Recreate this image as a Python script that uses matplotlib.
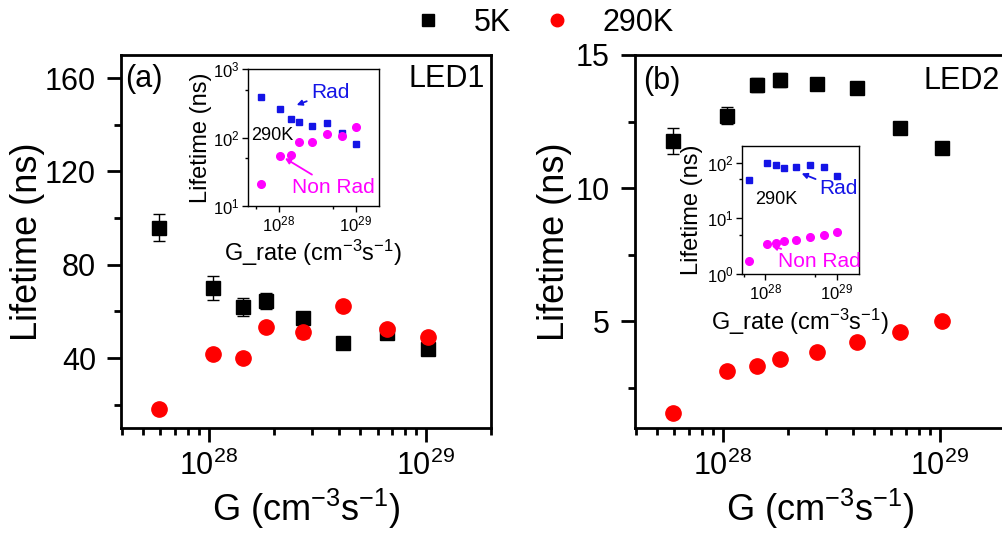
import matplotlib
matplotlib.use("Agg")
import matplotlib.pyplot as plt
from matplotlib.lines import Line2D
from matplotlib.ticker import LogLocator, MultipleLocator, NullFormatter

plt.rcParams["font.family"] = ["Liberation Sans", "DejaVu Sans"]
plt.rcParams["mathtext.fontset"] = "custom"
plt.rcParams["mathtext.rm"] = "Liberation Sans"
plt.rcParams["mathtext.it"] = "Liberation Sans:italic"
plt.rcParams["mathtext.bf"] = "Liberation Sans:bold"

# generation rate (cm^-3 s^-1)
g_rate = [5.9e27, 1.05e28, 1.44e28, 1.83e28, 2.72e28, 4.17e28, 6.6e28, 1.02e29]

# LED1 lifetimes (ns)
led1_5k = [95.8, 70.0, 61.8, 64.5, 57.1, 46.6, 50.6, 43.7]
led1_5k_err = [5.8, 5.0, 3.9, 3.4, 1.5, 1.0, 1.5, 1.0]
led1_290k = [18.0, 41.7, 40.1, 53.2, 51.0, 62.4, 52.4, 49.2]
led1_290k_err = [0.5, 0.5, 2.0, 0.5, 2.5, 0.5, 0.5, 0.5]
led1_rad = [388, 259, 189, 169, 147, 163, 116, 81]
led1_nonrad = [21, 53, 55, 86, 86, 111, 106, 144]

# LED2 lifetimes (ns)
led2_5k = [11.77, 12.72, 13.88, 14.07, 13.9, 13.76, 12.24, 11.49]
led2_5k_err = [0.47, 0.33, 0.26, 0.26, 0.2, 0.1, 0.1, 0.1]
led2_290k = [1.57, 3.15, 3.33, 3.59, 3.87, 4.24, 4.62, 5.0]
led2_rad = [49, 96, 91, 81, 82, 91, 84, 58]
led2_nonrad = [1.72, 3.39, 3.62, 3.88, 4.15, 4.62, 5.08, 5.58]

xlabel = "G (cm$^{-3}$s$^{-1}$)"
inset_xlabel = "G_rate (cm$^{-3}$s$^{-1}$)"

fig = plt.figure(figsize=(10.02, 5.33), dpi=100)


def style_main(ax, ylim, major, minor):
    ax.set_xscale("log")
    ax.set_xlim(3.95e27, 2.0e29)
    ax.set_ylim(*ylim)
    ax.yaxis.set_major_locator(MultipleLocator(major))
    ax.yaxis.set_minor_locator(MultipleLocator(minor))
    ax.xaxis.set_major_locator(LogLocator(base=10, numticks=10))
    ax.xaxis.set_minor_locator(LogLocator(base=10, subs=range(2, 10), numticks=20))
    ax.xaxis.set_minor_formatter(NullFormatter())
    ax.tick_params(which="both", direction="out", top=False, right=False,
                   width=2, labelsize=22)
    ax.tick_params(axis="y", which="major", length=10, pad=8)
    ax.tick_params(axis="x", which="major", length=10, pad=6)
    ax.tick_params(which="minor", length=5)
    for s in ax.spines.values():
        s.set_linewidth(2)
    ax.set_xlabel(xlabel, fontsize=26, labelpad=4)
    ax.set_ylabel("Lifetime (ns)", fontsize=26)


def style_inset(ax, xlim, ylim):
    ax.set_xscale("log")
    ax.set_yscale("log")
    ax.set_xlim(*xlim)
    ax.set_ylim(*ylim)
    ax.xaxis.set_major_locator(LogLocator(base=10, numticks=10))
    ax.xaxis.set_minor_locator(LogLocator(base=10, subs=[5], numticks=10))
    ax.yaxis.set_major_locator(LogLocator(base=10, numticks=10))
    ax.yaxis.set_minor_locator(LogLocator(base=10, subs=[5], numticks=10))
    ax.xaxis.set_minor_formatter(NullFormatter())
    ax.yaxis.set_minor_formatter(NullFormatter())
    ax.tick_params(which="both", direction="out", top=False, right=False,
                   width=1, labelsize=12, pad=2)
    ax.tick_params(which="major", length=4)
    ax.tick_params(which="minor", length=2.5)
    for s in ax.spines.values():
        s.set_linewidth(1)
    ax.set_xlabel(inset_xlabel, fontsize=17, labelpad=3)
    ax.set_ylabel("Lifetime (ns)", fontsize=17)


# ---- panel (a) ----
ax1 = fig.add_axes([0.1208, 0.197, 0.3693, 0.700])
ax1.errorbar(g_rate, led1_5k, yerr=led1_5k_err, fmt="s", color="black",
             ms=10, capsize=4, elinewidth=1, capthick=1)
ax1.errorbar(g_rate, led1_290k, yerr=led1_290k_err, fmt="o", color="red",
             ms=11, capsize=4, elinewidth=1, capthick=1)
style_main(ax1, (10, 170), 40, 20)
ax1.yaxis.set_label_coords(-0.205, 0.5)
ax1.text(0.01, 0.935, "(a)", transform=ax1.transAxes, fontsize=22,
         ha="left", va="center")
ax1.text(0.984, 0.935, "LED1", transform=ax1.transAxes, fontsize=22,
         ha="right", va="center")

ins1 = fig.add_axes([0.2472, 0.614, 0.131, 0.256])
ins1.plot(g_rate, led1_rad, "s", color="#1414e6", ms=5)
ins1.plot(g_rate, led1_nonrad, "o", color="#ff00ff", ms=5.5)
style_inset(ins1, (3.95e27, 2.0e29), (10, 1000))
ins1.yaxis.set_label_coords(-0.275, 0.5)
ins1.text(0.025, 0.518, "290K", transform=ins1.transAxes, fontsize=13,
          ha="left", va="center")
ins1.annotate("Rad", xy=(0.373, 0.738), xycoords="axes fraction",
              xytext=(0.627, 0.83), textcoords="axes fraction",
              fontsize=15, color="#1414e6", ha="center", va="center",
              arrowprops=dict(arrowstyle="-|>", color="#1414e6", lw=1.3,
                              mutation_scale=8, shrinkA=1, shrinkB=0))
ins1.annotate("Non Rad", xy=(0.284, 0.348), xycoords="axes fraction",
              xytext=(0.653, 0.133), textcoords="axes fraction",
              fontsize=15, color="#ff00ff", ha="center", va="center",
              arrowprops=dict(arrowstyle="-|>", color="#ff00ff", lw=1.3,
                              mutation_scale=8, shrinkA=1, shrinkB=0))

# ---- panel (b) ----
ax2 = fig.add_axes([0.6337, 0.197, 0.3693, 0.700])
ax2.errorbar(g_rate, led2_5k, yerr=led2_5k_err, fmt="s", color="black",
             ms=10, capsize=4, elinewidth=1, capthick=1)
ax2.plot(g_rate, led2_290k, "o", color="red", ms=11)
style_main(ax2, (1, 15), 5, 2.5)
ax2.yaxis.set_label_coords(-0.17, 0.5)
ax2.text(0.022, 0.93, "(b)", transform=ax2.transAxes, fontsize=22,
         ha="left", va="center")
ax2.text(0.986, 0.93, "LED2", transform=ax2.transAxes, fontsize=22,
         ha="right", va="center")

ins2 = fig.add_axes([0.7402, 0.4859, 0.1171, 0.2407])
ins2.plot(g_rate, led2_rad, "s", color="#1414e6", ms=5)
ins2.plot(g_rate, led2_nonrad, "o", color="#ff00ff", ms=5.5)
style_inset(ins2, (4.7e27, 2.05e29), (1, 200))
ins2.yaxis.set_label_coords(-0.33, 0.5)
ins2.text(0.293, 0.577, "290K", transform=ins2.transAxes, fontsize=13,
          ha="center", va="center")
ins2.annotate("Rad", xy=(0.511, 0.784), xycoords="axes fraction",
              xytext=(0.828, 0.667), textcoords="axes fraction",
              fontsize=15, color="#1414e6", ha="center", va="center",
              arrowprops=dict(arrowstyle="-|>", color="#1414e6", lw=1.3,
                              mutation_scale=8, shrinkA=1, shrinkB=0))
ins2.annotate("Non Rad", xy=(0.256, 0.221), xycoords="axes fraction",
              xytext=(0.659, 0.097), textcoords="axes fraction",
              fontsize=15, color="#ff00ff", ha="center", va="center",
              arrowprops=dict(arrowstyle="-|>", color="#ff00ff", lw=1.3,
                              mutation_scale=8, shrinkA=1, shrinkB=0))

# ---- shared legend ----
handles = [
    Line2D([], [], marker="s", color="black", ls="none", ms=9),
    Line2D([], [], marker="o", color="red", ls="none", ms=9),
]
fig.legend(handles, ["5K", "290K"], loc="center", ncol=2, frameon=False,
           fontsize=22, bbox_to_anchor=(0.542, 0.957), handlelength=1.0,
           handletextpad=1.0, columnspacing=1.0, borderpad=0)

fig.savefig("out.png", dpi=100)
